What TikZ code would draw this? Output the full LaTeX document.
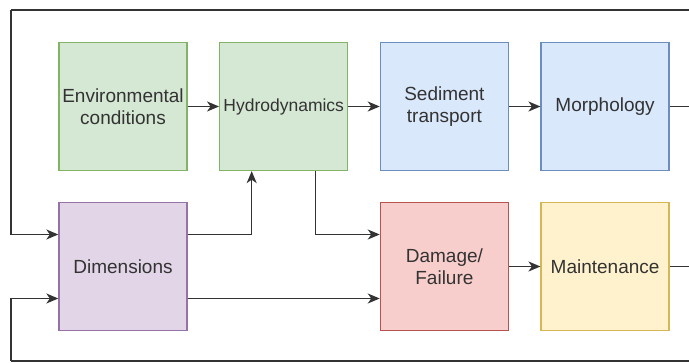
\documentclass[tikz,border=0pt]{standalone}
\usepackage{fontspec}
\setmainfont{Liberation Sans}
\usetikzlibrary{arrows.meta,positioning,calc}
\definecolor{ink}{HTML}{333333}
\definecolor{greenfill}{HTML}{D5E8D4}
\definecolor{greenline}{HTML}{82B366}
\definecolor{bluefill}{HTML}{DAE8FC}
\definecolor{blueline}{HTML}{6C8EBF}
\definecolor{redfill}{HTML}{F8CECC}
\definecolor{redline}{HTML}{B85450}
\definecolor{yellowfill}{HTML}{FFF2CC}
\definecolor{yellowline}{HTML}{D6B656}
\definecolor{purplefill}{HTML}{E1D5E7}
\definecolor{purpleline}{HTML}{9673A6}
\tikzset{
  block/.style={
    draw, line width=1.3pt,
    minimum width=128pt, minimum height=128pt,
    inner sep=2pt, align=center, text=ink,
    font=\fontsize{19}{22}\selectfont
  },
  envbox/.style={block, fill=greenfill, draw=greenline},
  hydbox/.style={block, fill=bluefill, draw=blueline},
  dimbox/.style={block, fill=purplefill, draw=purpleline},
  failbox/.style={block, fill=redfill, draw=redline},
  carebox/.style={block, fill=yellowfill, draw=yellowline},
  flow/.style={-{Stealth[length=12pt,width=10pt,inset=3.5pt]}, line width=1.5pt, draw=ink},
  wire/.style={line width=1.5pt, draw=ink}
}

\begin{document}
\begin{tikzpicture}[x=1pt, y=-1pt, node distance=30.7pt and 31.4pt]
  \fill[white] (0,0) rectangle (689,363);
  \useasboundingbox (0,0) rectangle (689,363);
  \clip (0,0) rectangle (689,363);

  % top row
  \node[envbox] (env) at (123,106.5) {Environmental\\conditions};
  \node[envbox, right=of env, font=\fontsize{17.5}{20}\selectfont] (hydro) {Hydrodynamics};
  \node[hydbox, right=of hydro] (sed) {Sediment\\transport};
  \node[hydbox, right=of sed] (morph) {Morphology};

  % bottom row
  \node[dimbox, below=of env] (dims) {Dimensions};
  \node[failbox, below=of sed] (fail) {Damage/\\Failure};
  \node[carebox, below=of morph] (care) {Maintenance};

  % feedback rims
  \coordinate (rimNE) at (720,10);
  \coordinate (rimNW) at (11,10);
  \coordinate (rimSE) at (720,361);
  \coordinate (rimSW) at (11,361);

  \draw[flow] (env) -- (hydro);
  \draw[flow] (hydro) -- (sed);
  \draw[flow] (sed) -- (morph);
  \draw[flow] (fail) -- (care);

  \draw[flow] ([yshift=32pt]dims.east) -| ([xshift=-32pt]hydro.south);
  \draw[flow] ([xshift=32pt]hydro.south) |- ([yshift=32pt]fail.west);
  \draw[flow] ([yshift=-32pt]dims.east) -- ([yshift=-32pt]fail.west);

  \draw[wire] (morph.east) -| (rimNE) -- (rimNW);
  \draw[flow] (rimNW) |- ([yshift=32pt]dims.west);
  \draw[wire] (care.east) -| (rimSE) -- (rimSW);
  \draw[flow] (rimSW) |- ([yshift=-32pt]dims.west);
\end{tikzpicture}
\end{document}
